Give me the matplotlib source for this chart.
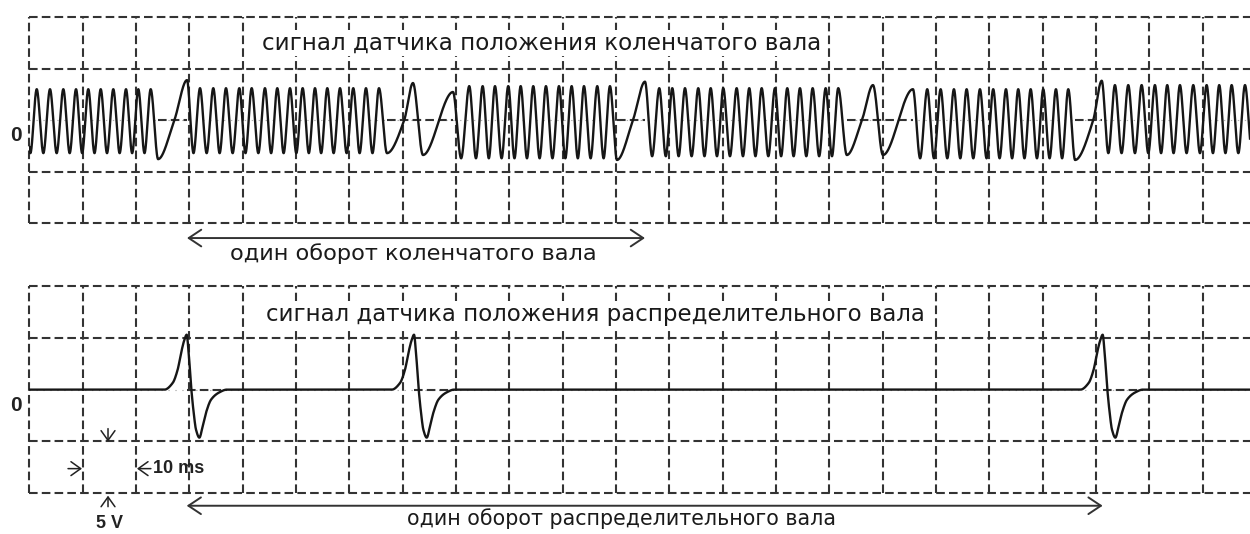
import numpy as np
import matplotlib.pyplot as plt

plt.rcParams['font.family'] = ['DejaVu Sans']
plt.rcParams['lines.scale_dashes'] = False

# time in ms (10 ms per division), voltage in V (5 V per division)
t_end = 228.9

# crankshaft sensor: peak time of every tooth, one list per run of teeth
crank_runs = [
    [1.39, 3.88, 6.38, 8.76, 11.06, 13.39, 15.75, 18.13, 20.44, 22.76],
    [32.01, 34.50, 36.88, 39.38, 41.70, 44.19, 46.50, 48.88, 51.26, 53.57,
     55.88, 58.26, 60.75, 63.13, 65.57],
    [82.50, 85.01, 87.32, 89.81, 92.14, 94.50, 96.88, 99.32, 101.70, 104.01,
     106.50, 108.88],
    [118.13, 120.57, 122.95, 125.44, 127.77, 130.13, 132.64, 135.00, 137.33,
     139.82, 142.13, 144.51, 146.89, 149.33, 151.69],
    [168.38, 170.89, 173.38, 175.76, 178.26, 180.75, 183.14, 185.44, 187.77,
     190.13, 192.51, 194.82],
    [203.57, 206.07, 208.58, 211.07, 213.38, 215.76, 218.26, 220.77, 223.13,
     225.46, 227.96],
]
crank_tooth_hi = [3.0, 3.1, 3.3, 3.1, 3.0, 3.4]
crank_tooth_lo = [-3.2, -3.2, -3.7, -3.5, -3.7, -3.2]
# missing-tooth gaps after each run: (ms, V) turning points
crank_gaps = [
    [(24.15, -3.78), (27.2, 0.0), (29.57, 3.88)],
    [(67.07, -3.2), (70.3, 0.0), (71.94, 3.6), (73.82, -3.38), (79.45, 2.73)],
    [(110.2, -3.86), (113.2, 0.0), (115.45, 3.73)],
    [(153.3, -3.38), (156.14, 0.0), (158.2, 3.4), (160.07, -3.38), (165.7, 3.0)],
    [(196.1, -3.86), (199.5, 0.0), (201.1, 3.82)],
]
crank_start = (0.2, -3.2)
crank_end = (229.3, -3.2)

# camshaft sensor: pulse peak times and pulse shape (offset ms, V)
cam_peaks = [29.51, 72.14, 201.27]
cam_pulse = [(-4.18, 0.0), (-2.63, 0.64), (-1.69, 1.93), (-1.05, 3.54), (-0.43, 4.8),
             (0.0, 5.3), (0.38, 3.5), (0.88, 0.0), (1.31, -2.2), (1.75, -3.86),
             (2.38, -4.63), (3.0, -3.54), (3.64, -2.2), (4.58, -0.96), (6.13, -0.26),
             (7.5, 0.0)]

title_crank = 'сигнал датчика положения коленчатого вала'
title_cam = 'сигнал датчика положения распределительного вала'
rev_crank = 'один оборот коленчатого вала'
rev_cam = 'один оборот распределительного вала'


def pchip(xk, yk, x):
    # monotone cubic through the turning points
    xk = np.asarray(xk, float)
    yk = np.asarray(yk, float)
    h = np.diff(xk)
    d = np.diff(yk) / h
    m = np.zeros_like(yk)
    for k in range(1, len(xk) - 1):
        if d[k - 1] * d[k] > 0:
            w1 = 2 * h[k] + h[k - 1]
            w2 = h[k] + 2 * h[k - 1]
            m[k] = (w1 + w2) / (w1 / d[k - 1] + w2 / d[k])
    i = np.clip(np.searchsorted(xk, x) - 1, 0, len(xk) - 2)
    s = (x - xk[i]) / h[i]
    h00 = 2 * s**3 - 3 * s**2 + 1
    h10 = s**3 - 2 * s**2 + s
    h01 = -2 * s**3 + 3 * s**2
    h11 = s**3 - s**2
    return h00 * yk[i] + h10 * h[i] * m[i] + h01 * yk[i + 1] + h11 * h[i] * m[i + 1]


# build the crank knots
knots = [crank_start]
for n, run in enumerate(crank_runs):
    for p in run:
        if knots[-1][1] > 0:
            knots.append(((knots[-1][0] + p) / 2, crank_tooth_lo[n]))
        knots.append((p, crank_tooth_hi[n]))
    if n < len(crank_gaps):
        knots.extend(crank_gaps[n])
knots.append(crank_end)
ck = np.array(knots)

cam_knots = [(-1.0, 0.0)]
for p in cam_peaks:
    cam_knots.extend((p + dt, v) for dt, v in cam_pulse)
cam_knots.append((t_end + 1, 0.0))
mk = np.array(cam_knots)

t = np.linspace(0, t_end, 12000)
crank = pchip(ck[:, 0], ck[:, 1], t)
cam = pchip(mk[:, 0], mk[:, 1], t)

W, H = 1250, 534
fig = plt.figure(figsize=(W / 100, H / 100), dpi=100)
ax1 = fig.add_axes([29.3 / W, 1 - 223.3 / H, 1 - 29.3 / W, 206.3 / H])
ax2 = fig.add_axes([29.3 / W, 1 - 493.3 / H, 1 - 29.3 / W, 207.3 / H])

grid_kw = dict(color='#333333', lw=1.5, dashes=(6.2, 3.0), clip_on=False, zorder=1)
sig_kw = dict(color='#161616', lw=1.7, zorder=3)
arrow_kw = dict(arrowstyle='<->,head_length=0.45,head_width=0.3', color='#333333',
                lw=1.4, shrinkA=0, shrinkB=0, mutation_scale=20)
small_kw = dict(arrowstyle='->,head_length=0.35,head_width=0.25', color='#222222',
                lw=1.1, shrinkA=0, shrinkB=0, mutation_scale=20)
box = dict(facecolor='white', edgecolor='none', pad=1)


def draw_grid(ax, dark_spans):
    for x in np.arange(0, 221, 10):
        ax.plot([x, x], [-10, 10], **grid_kw)
    for y in (-10, -5, 5, 10):
        ax.plot([0, t_end], [y, y], **grid_kw)
    ax.plot([0, t_end], [0, 0], color='#b0b0b0', lw=0.8, ls=(0, (1, 4)), zorder=1)
    for a, b in dark_spans:
        ax.plot([a, b], [0, 0], **grid_kw)
    ax.set_xlim(0, t_end)
    ax.set_ylim(-10, 10)
    ax.axis('off')
    ax.text(-2.5, -1.5, '0', ha='center', va='center', fontsize=15,
            fontweight='bold', family='Liberation Sans', color='#222222')


draw_grid(ax1, [(g[0][0], g[-1][0]) for g in crank_gaps])
draw_grid(ax2, [(p, p + cam_pulse[-1][0]) for p in cam_peaks])

ax1.plot(t, crank, **sig_kw)
ax2.plot(t, cam, **sig_kw)

# titles
ax1.text(96.1, 6.87, title_crank, ha='center', va='baseline', fontsize=16.6,
         color='#1a1a1a', bbox=box, zorder=4)
ax2.text(106.1, 6.66, title_cam, ha='center', va='baseline', fontsize=16.5,
         color='#1a1a1a', bbox=box, zorder=4)

# one revolution arrows
g0 = crank_gaps[0][-1][0]
g2 = crank_gaps[2][-1][0]
ax1.annotate('', xy=(g0, -11.43), xytext=(g2, -11.43), arrowprops=arrow_kw,
             annotation_clip=False)
ax1.text(72.0, -13.56, rev_crank, ha='center', va='baseline', fontsize=16.2,
         color='#1a1a1a', clip_on=False)
ax2.annotate('', xy=(cam_peaks[0], -11.2), xytext=(cam_peaks[2], -11.2), arrowprops=arrow_kw,
             annotation_clip=False)
ax2.text(111.1, -13.02, rev_cam, ha='center', va='baseline', fontsize=14.8,
         color='#1a1a1a', clip_on=False)

# scale marks
ax2.annotate('', xy=(14.76, -5.02), xytext=(14.76, -3.76), arrowprops=small_kw,
             annotation_clip=False)
ax2.annotate('', xy=(14.76, -10.23), xytext=(14.76, -11.29), arrowprops=small_kw,
             annotation_clip=False)
ax2.annotate('', xy=(9.88, -7.62), xytext=(7.26, -7.62), arrowprops=small_kw,
             annotation_clip=False)
ax2.annotate('', xy=(20.19, -7.62), xytext=(22.8, -7.62), arrowprops=small_kw,
             annotation_clip=False)
ax2.text(23.2, -7.62, '10 ms', ha='left', va='center', fontsize=13, fontweight='bold',
         family='Liberation Sans', color='#222222')
ax2.text(15.1, -12.93, '5 V', ha='center', va='center', fontsize=13, fontweight='bold',
         family='Liberation Sans', color='#222222', clip_on=False)

fig.savefig('out.png', dpi=100, facecolor='white')
